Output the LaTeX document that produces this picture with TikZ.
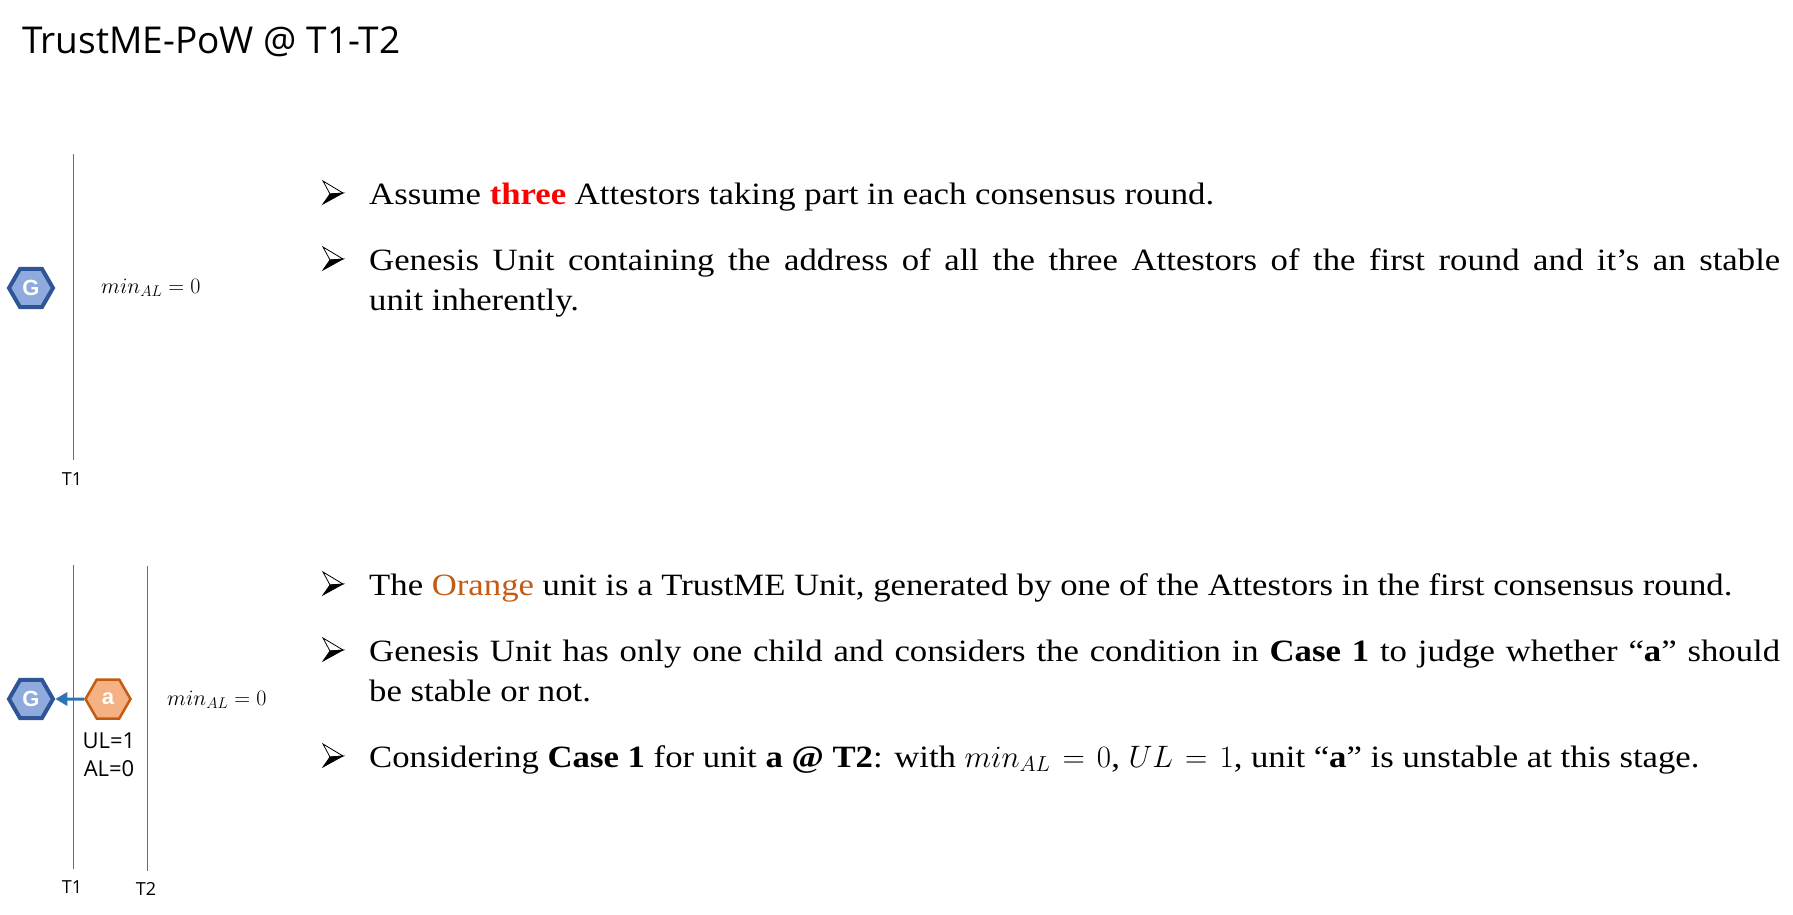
\RequirePackage{fix-cm}
\documentclass[tikz,border=0pt]{standalone}
\usepackage{fontspec}
\setmainfont[FakeStretch=1.12]{Liberation Serif}
\newfontfamily\titlefont{Open Sans}
\newfontfamily\hexfont{Liberation Sans}
\usetikzlibrary{shapes.geometric,arrows.meta}
\definecolor{tline}{HTML}{4472C4}
\definecolor{gfill}{HTML}{8FAADC}
\definecolor{gdraw}{HTML}{2F5597}
\definecolor{afill}{HTML}{F4B183}
\definecolor{adraw}{HTML}{C55A11}
\definecolor{arrowc}{HTML}{2E75B6}
\definecolor{redt}{HTML}{FF0000}
\definecolor{oranget}{HTML}{C55A11}
\newcommand{\bodyfs}{\fontsize{31}{36}\selectfont}
\newcommand{\mth}[1]{{\fontsize{31}{36}\selectfont\thickmuskip=7mu$#1$}}
\newcommand{\arrbul}[1]{%
  \begin{scope}[shift={#1}]
    \filldraw[fill=white,draw=black,line width=0.8pt,line join=miter] (0,-23) -- (20,-11) -- (7,-10) -- cycle;
    \filldraw[fill=black,draw=black,line width=0.8pt,line join=miter] (7,-10) -- (20,-11) -- (0,0) -- cycle;
  \end{scope}}
\begin{document}
\begin{tikzpicture}[x=1pt,y=-1pt,
  tl/.style={draw=tline,line width=1pt},
  hexG/.style={regular polygon,regular polygon sides=6,minimum size=44pt,inner sep=0pt,
    fill=gfill,draw=gdraw,line width=4pt,text=white,font=\hexfont\bfseries\fontsize{22}{22}\selectfont},
  hexA/.style={hexG,fill=afill,draw=adraw,line width=2.5pt,minimum size=45pt},
  tlab/.style={font=\titlefont\fontsize{18}{18}\selectfont,inner sep=0pt},
  mlab/.style={anchor=west,inner sep=0pt,font=\fontsize{22}{22}\selectfont},
  body/.style={anchor=base west,inner sep=0pt,font=\bodyfs},
  parr/.style={draw=arrowc,line width=3pt,-{Triangle[length=12pt,width=13pt]}}]
\useasboundingbox (0,0) rectangle (1793,914);
% title
\node[anchor=base west,inner sep=0pt,font=\titlefont\fontsize{37}{37}\selectfont] (title) at (22,53) {TrustME-PoW @ T1-T2};
% ---- top section ----
\coordinate (t1a) at (73.5,154);
\coordinate (t1b) at (73.5,460);
\draw[tl] (t1a) -- (t1b);
\node[tlab] (lt1) at (72,479) {T1};
\node[hexG] (G1) at (31,288) {G};
\node[mlab] (m1) at (101,288) {$min_{AL}=0$};
\arrbul{(323,204)}
\node[body] (s1) at (369,204) {Assume \textcolor{redt}{\textbf{three}} Attestors taking part in each consensus round.};
\arrbul{(323,270)}
\node[body] (s2) at (369,270) {\makebox[1411pt][s]{Genesis Unit containing the address of all the three Attestors of the first round and it’s an stable}};
\node[body] (s2b) at (369,310) {unit inherently.};
% ---- bottom section ----
\coordinate (u1a) at (73.5,565);
\coordinate (u1b) at (73.5,869);
\coordinate (u2a) at (147,566);
\coordinate (u2b) at (147,871);
\draw[tl] (u1a) -- (u1b);
\draw[tl] (u2a) -- (u2b);
\node[tlab] (lt2) at (72,887) {T1};
\node[tlab] (lt3) at (146,889) {T2};
\node[hexG] (G2) at (31,699) {G};
\node[hexA] (A) at (108,699) {a};
\draw[parr] (A.west) -- (G2.east);
\node[tlab,align=center,font=\titlefont\fontsize{22}{28}\selectfont] (ul) at (109,755) {UL=1\\AL=0};
\node[mlab] (m2) at (167,700) {$min_{AL}=0$};
\arrbul{(323,595)}
\node[body] (s3) at (369,595) {The \textcolor{oranget}{Orange} unit is a TrustME Unit, generated by one of the Attestors in the first consensus round.};
\arrbul{(323,661)}
\node[body] (s4) at (369,661) {\makebox[1411pt][s]{Genesis Unit has only one child and considers the condition in \textbf{Case 1} to judge whether “\textbf{a}” should}};
\node[body] (s4b) at (369,701) {be stable or not.};
\arrbul{(323,767)}
\node[body] (s5) at (369,767) {Considering \textbf{Case 1} for unit \textbf{a @ T2}: with \mth{min_{AL}=0}, \mth{UL=1}, unit “\textbf{a}” is unstable at this stage.};
\end{tikzpicture}
\end{document}
